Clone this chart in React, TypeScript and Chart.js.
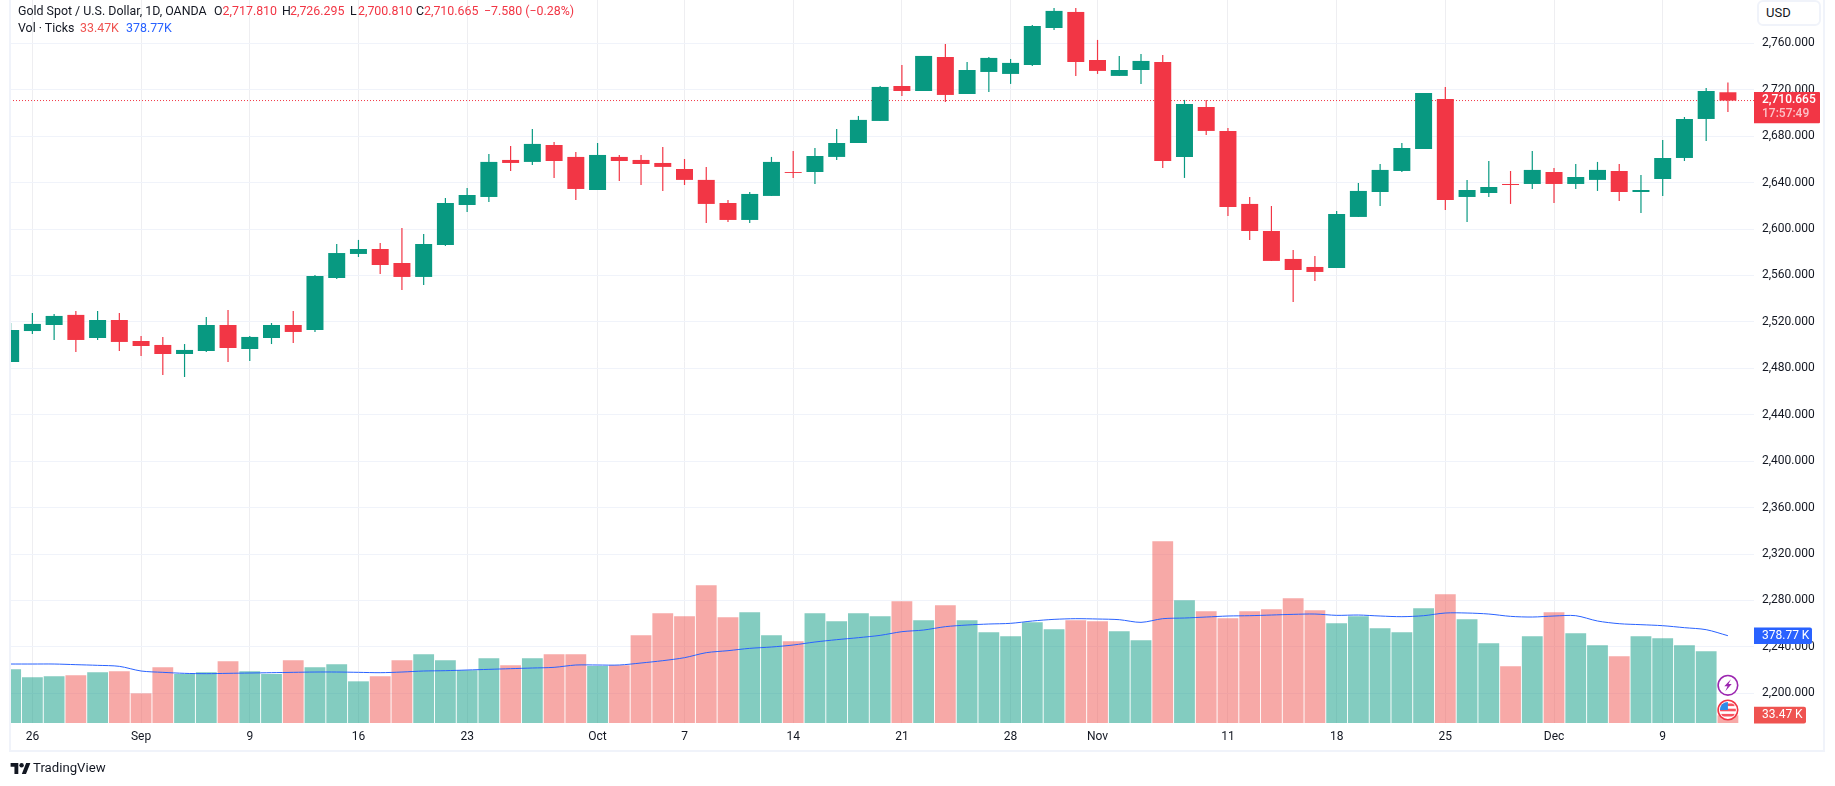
import React, { useEffect, useRef } from "react";
import { Chart, registerables } from "chart.js";

Chart.register(...registerables);

const W = 1835;
const H = 786;

const dates = [
  "Aug 23","Aug 26","Aug 27","Aug 28","Aug 29","Aug 30",
  "Sep 2","Sep 3","Sep 4","Sep 5","Sep 6","Sep 9","Sep 10","Sep 11","Sep 12","Sep 13",
  "Sep 16","Sep 17","Sep 18","Sep 19","Sep 20","Sep 23","Sep 24","Sep 25","Sep 26","Sep 27","Sep 30",
  "Oct 1","Oct 2","Oct 3","Oct 4","Oct 7","Oct 8","Oct 9","Oct 10","Oct 11","Oct 14","Oct 15","Oct 16","Oct 17","Oct 18",
  "Oct 21","Oct 22","Oct 23","Oct 24","Oct 25","Oct 28","Oct 29","Oct 30","Oct 31",
  "Nov 1","Nov 4","Nov 5","Nov 6","Nov 7","Nov 8","Nov 11","Nov 12","Nov 13","Nov 14","Nov 15",
  "Nov 18","Nov 19","Nov 20","Nov 21","Nov 22","Nov 25","Nov 26","Nov 27","Nov 28","Nov 29",
  "Dec 2","Dec 3","Dec 4","Dec 5","Dec 6","Dec 9","Dec 10","Dec 11","Dec 12",
];

const opens = [
  2485.4,2512.1,2517.3,2526.0,2506.1,2521.6,
  2503.5,2500.1,2492.3,2494.9,2517.3,2496.6,2506.1,2517.3,2513.0,2557.8,
  2578.5,2582.8,2570.7,2558.7,2586.2,2620.7,2627.6,2659.5,2657.8,2672.4,2662.1,
  2633.6,2662.1,2659.5,2656.9,2651.7,2642.3,2622.4,2607.8,2628.5,2649.1,2649.1,2662.1,2674.1,2693.1,
  2723.2,2718.9,2748.2,2716.3,2735.3,2733.6,2741.3,2773.2,2787.0,
  2745.6,2731.9,2737.0,2743.9,2662.1,2705.1,2684.5,2621.6,2598.3,2574.2,2567.3,
  2566.4,2610.4,2631.9,2650.0,2669.0,2712.0,2627.6,2631.0,2638.8,2638.8,
  2649.1,2638.8,2642.3,2650.0,2631.9,2643.1,2661.2,2694.8,2717.81,
];
const highs = [
  2519.0,2527.6,2526.8,2529.4,2529.4,2527.7,
  2507.8,2507.0,2500.9,2524.2,2530.2,2507.8,2519.0,2529.4,2560.4,2587.1,
  2590.6,2588.0,2600.9,2595.7,2626.7,2635.4,2664.7,2671.5,2686.2,2675.0,2666.4,
  2674.1,2663.8,2663.8,2670.7,2660.3,2653.5,2625.0,2631.9,2662.1,2667.2,2669.8,2686.2,2697.4,2723.2,
  2741.3,2749.1,2759.4,2743.9,2748.2,2746.5,2775.8,2790.5,2790.5,
  2762.9,2749.1,2750.8,2750.0,2711.2,2711.2,2687.1,2627.6,2619.8,2581.9,2576.8,
  2615.5,2639.7,2656.0,2674.1,2717.2,2722.4,2642.3,2658.6,2650.0,2667.2,
  2652.6,2656.0,2657.8,2656.0,2646.6,2676.7,2696.5,2721.5,2726.295,
];
const lows = [
  2485.4,2509.6,2504.4,2494.0,2504.4,2494.9,
  2490.6,2474.3,2472.5,2494.0,2485.4,2486.3,2500.9,2501.8,2511.3,2556.9,
  2575.9,2561.3,2547.5,2551.8,2585.4,2614.7,2623.3,2650.0,2655.2,2644.0,2625.0,
  2633.6,2641.4,2637.9,2632.8,2637.9,2605.2,2606.1,2605.2,2628.5,2644.0,2638.8,2659.5,2674.1,2693.1,
  2714.6,2718.9,2709.5,2716.3,2718.1,2725.0,2740.5,2771.5,2731.9,
  2733.6,2731.9,2725.0,2652.6,2644.0,2681.0,2611.2,2590.6,2572.5,2537.1,2555.2,
  2566.4,2610.4,2619.8,2649.1,2669.0,2616.4,2606.1,2627.6,2621.6,2634.5,
  2622.4,2634.5,2632.8,2624.2,2613.8,2628.5,2658.6,2675.8,2700.81,
];
const closes = [
  2513.0,2518.2,2525.1,2504.4,2521.6,2502.7,
  2499.2,2492.3,2495.8,2517.3,2497.5,2507.0,2517.3,2511.3,2559.5,2579.3,
  2582.8,2569.0,2558.7,2587.1,2622.4,2629.3,2657.8,2656.9,2673.3,2658.6,2634.5,
  2663.8,2658.6,2656.0,2653.5,2642.3,2621.6,2607.8,2630.2,2657.8,2648.3,2662.9,2674.1,2694.0,2722.4,
  2718.9,2749.1,2715.5,2737.0,2747.4,2743.1,2774.9,2787.9,2743.9,
  2736.2,2737.0,2744.8,2658.6,2707.7,2684.5,2619.0,2598.3,2572.5,2564.7,2563.0,
  2613.0,2632.8,2650.9,2669.8,2717.2,2625.0,2633.6,2636.2,2637.9,2650.9,
  2638.8,2644.8,2650.9,2631.9,2633.6,2661.2,2694.8,2718.9,2710.665,
];
const volumesK = [
  232.8,198.1,202.4,206.8,219.8,224.1,
  128.7,241.5,212.6,219.8,267.5,224.1,212.6,271.8,241.5,254.5,
  180.8,202.4,271.8,297.9,271.8,228.5,280.5,250.2,280.5,297.9,297.9,
  247.3,250.2,380.3,475.7,462.7,597.2,458.4,480.1,380.3,354.3,475.7,441.0,475.7,462.7,
  527.8,445.4,510.4,445.4,393.3,376.0,436.7,406.3,445.4,
  441.0,397.7,358.6,788.1,532.1,484.4,454.0,484.4,493.1,540.8,488.7,
  432.4,462.7,410.7,393.3,497.4,558.2,449.7,345.6,245.8,376.0,
  480.1,389.0,336.9,289.2,376.0,367.3,336.9,310.9,33.47,
];
const volumeMaK = [
  255.9,255.9,255.9,253.1,250.2,245.8,
  225.6,219.8,215.5,214.0,215.5,216.9,218.3,219.8,221.2,221.2,
  219.8,218.3,221.2,225.6,227.0,229.9,232.8,235.7,238.6,241.5,251.6,
  251.6,251.6,260.3,270.4,283.4,305.1,313.8,323.9,329.7,338.4,351.4,361.5,370.2,380.3,
  396.2,403.4,417.9,425.1,429.5,432.4,442.5,449.7,452.6,
  451.2,448.3,436.7,452.6,455.5,459.8,464.2,465.6,468.5,471.4,472.8,
  467.1,468.5,464.2,461.3,465.6,477.2,477.2,472.8,462.7,459.8,
  464.2,465.6,442.5,430.9,426.6,422.2,413.6,404.9,378.77,
];

const priceTicks = [2200,2240,2280,2320,2360,2400,2440,2480,2520,2560,2600,2640,2680,2720,2760];
const timeTickDates = ["Aug 26","Sep 2","Sep 9","Sep 16","Sep 23","Oct 1","Oct 7","Oct 14","Oct 21","Oct 28","Nov 1","Nov 11","Nov 18","Nov 25","Dec 2","Dec 9"];
const timeTickLabels = ["26","Sep","9","16","23","Oct","7","14","21","28","Nov","11","18","25","Dec","9"];

const lastPrice = 2710.665;
const lastVolumeText = "33.47K";
const lastMaText = "378.77K";
const countdown = "17:57:49";

const GREEN = "#089981";
const RED = "#F23645";
const GREEN_VOL = "rgba(8,153,129,0.5)";
const RED_VOL = "rgba(239,83,80,0.5)";
const BLUE = "#2962FF";
const TEXT = "#131722";
const FONT = "Roboto, 'Noto Sans', sans-serif";

const X_MIN = -1.03;
const X_MAX = 79.2;
const PRICE_MIN = 2174.4;
const PRICE_MAX = 2797.3;
const VOL_MAX = 3137;

const isUp = (i: number) => closes[i] >= opens[i];
const tickIndex = timeTickDates.map((d) => dates.indexOf(d));

function roundRightRect(ctx: CanvasRenderingContext2D, x: number, y: number, w: number, h: number, r: number) {
  ctx.beginPath();
  ctx.moveTo(x, y);
  ctx.lineTo(x + w - r, y);
  ctx.quadraticCurveTo(x + w, y, x + w, y + r);
  ctx.lineTo(x + w, y + h - r);
  ctx.quadraticCurveTo(x + w, y + h, x + w - r, y + h);
  ctx.lineTo(x, y + h);
  ctx.closePath();
}

const overlayPlugin = {
  id: "tvOverlay",
  afterDraw(chart: any) {
    const { ctx, scales } = chart;
    const price = scales.y;
    const vol = scales.vol;
    const xs = scales.x;
    const left = chart.chartArea.right;
    ctx.save();
    ctx.textBaseline = "middle";
    ctx.textAlign = "left";

    // last price tag
    const py = price.getPixelForValue(lastPrice);
    ctx.fillStyle = RED;
    roundRightRect(ctx, left, py - 8.5, 66, 31.3, 1);
    ctx.fill();
    ctx.font = `500 12px ${FONT}`;
    ctx.fillStyle = "#ffffff";
    ctx.fillText(lastPrice.toLocaleString("en-US", { minimumFractionDigits: 3 }), left + 8, py - 0.5);
    ctx.fillStyle = "#fcc2c7";
    ctx.fillText(countdown, left + 8, py + 13.5);

    // moving-average tag
    const my = vol.getPixelForValue(volumeMaK[volumeMaK.length - 1]);
    ctx.fillStyle = BLUE;
    roundRightRect(ctx, left, my - 8.2, 58, 16.4, 2);
    ctx.fill();
    ctx.fillStyle = "#ffffff";
    ctx.font = `12px ${FONT}`;
    ctx.fillText(lastMaText.replace("K", " K"), left + 8, my + 0.3);

    // volume tag
    const vy = vol.getPixelForValue(volumesK[volumesK.length - 1]);
    ctx.fillStyle = "#EF5350";
    roundRightRect(ctx, left, vy - 8.5, 52, 16.7, 2);
    ctx.fill();
    ctx.fillStyle = "#ffffff";
    ctx.fillText(lastVolumeText.replace("K", " K"), left + 8, vy + 0.2);

    // event icons on the last bar
    const cx = xs.getPixelForValue(dates.length - 2);
    const cy1 = 685.3;
    const cy2 = 710;
    ctx.beginPath();
    ctx.arc(cx, cy1, 9.8, 0, Math.PI * 2);
    ctx.fillStyle = "#fff";
    ctx.fill();
    ctx.lineWidth = 1.6;
    ctx.strokeStyle = "#9C27B0";
    ctx.stroke();
    ctx.beginPath();
    ctx.moveTo(cx + 3, cy1 - 6);
    ctx.lineTo(cx - 3.6, cy1 + 1);
    ctx.lineTo(cx - 0.4, cy1 + 1);
    ctx.lineTo(cx - 2.6, cy1 + 6);
    ctx.lineTo(cx + 3.8, cy1 - 1.2);
    ctx.lineTo(cx + 0.6, cy1 - 1.2);
    ctx.closePath();
    ctx.fillStyle = "#9C27B0";
    ctx.fill();

    ctx.beginPath();
    ctx.arc(cx, cy2, 9.8, 0, Math.PI * 2);
    ctx.fillStyle = "#fff";
    ctx.fill();
    ctx.save();
    ctx.beginPath();
    ctx.arc(cx, cy2, 8, 0, Math.PI * 2);
    ctx.clip();
    ctx.fillStyle = "#fff";
    ctx.fillRect(cx - 9, cy2 - 9, 18, 18);
    ctx.fillStyle = "#F7525F";
    ctx.fillRect(cx - 9, cy2 - 6.5, 18, 2.6);
    ctx.fillRect(cx - 9, cy2 - 1.3, 18, 2.6);
    ctx.fillRect(cx - 9, cy2 + 3.9, 18, 2.6);
    ctx.fillStyle = "#2E8BE8";
    ctx.fillRect(cx - 9, cy2 - 9, 9, 9);
    ctx.restore();
    ctx.beginPath();
    ctx.arc(cx, cy2, 9.8, 0, Math.PI * 2);
    ctx.strokeStyle = "#F23645";
    ctx.lineWidth = 1.6;
    ctx.stroke();
    ctx.restore();
  },
};

const span = (left: number, top: number, color: string, text: string, extra: React.CSSProperties = {}) => (
  <span
    style={{
      position: "absolute",
      left,
      top,
      color,
      font: `12.4px/14px ${FONT}`,
      whiteSpace: "pre",
      ...extra,
    }}
  >
    {text}
  </span>
);

export default function App() {
  const ref = useRef<HTMLCanvasElement | null>(null);

  useEffect(() => {
    document.body.style.margin = "0";
    document.body.style.background = "#fff";
    const idx = dates.map((_, i) => i - 1);
    const upColor = dates.map((_, i) => (isUp(i) ? GREEN : RED));
    const chart = new Chart(ref.current as HTMLCanvasElement, {
      type: "bar",
      data: {
        datasets: [
          {
            type: "bar",
            label: "Body",
            data: idx.map((x, i) => ({ x, y: [opens[i], closes[i]] })),
            backgroundColor: upColor,
            barThickness: 17,
            grouped: false,
            inflateAmount: 0,
            order: 1,
            yAxisID: "y",
          },
          {
            type: "bar",
            label: "Wick",
            data: idx.map((x, i) => ({ x, y: [lows[i], highs[i]] })),
            backgroundColor: upColor,
            barThickness: 1.2,
            grouped: false,
            inflateAmount: 0,
            order: 2,
            yAxisID: "y",
          },
          {
            type: "line",
            label: "Last",
            data: [
              { x: X_MIN, y: lastPrice },
              { x: X_MAX, y: lastPrice },
            ],
            borderColor: RED,
            borderWidth: 1,
            borderDash: [1, 2],
            pointRadius: 0,
            order: 3,
            yAxisID: "y",
          },
          {
            type: "line",
            label: "Volume MA",
            data: idx.map((x, i) => ({ x, y: volumeMaK[i] })),
            borderColor: BLUE,
            borderWidth: 1,
            pointRadius: 0,
            tension: 0.3,
            order: 4,
            yAxisID: "vol",
          },
          {
            type: "bar",
            label: "Volume",
            data: idx.map((x, i) => ({ x, y: volumesK[i] })),
            backgroundColor: dates.map((_, i) => (isUp(i) ? GREEN_VOL : RED_VOL)),
            barThickness: 20.8,
            grouped: false,
            inflateAmount: 0,
            order: 5,
            yAxisID: "vol",
          },
        ],
      } as any,
      options: {
        animation: false,
        responsive: false,
        devicePixelRatio: 1,
        layout: { padding: { left: 10, top: 0, right: 0, bottom: 0 } },
        plugins: { legend: { display: false }, tooltip: { enabled: false } },
        scales: {
          x: {
            type: "linear",
            min: X_MIN,
            max: X_MAX,
            offset: false,
            afterBuildTicks(scale: any) {
              scale.ticks = tickIndex.map((i) => ({ value: i - 1 }));
            },
            afterFit(scale: any) {
              scale.height = H - 723;
              scale.paddingLeft = 0;
              scale.paddingRight = 0;
            },
            grid: { color: "#EEEEF1", lineWidth: 1, drawTicks: false, offset: false },
            border: { display: false },
            ticks: {
              autoSkip: false,
              maxRotation: 0,
              padding: 7,
              color: TEXT,
              font: { family: FONT, size: 12 },
              callback: (_v: any, i: number) => timeTickLabels[i],
            },
          },
          y: {
            type: "linear",
            position: "right",
            min: PRICE_MIN,
            max: PRICE_MAX,
            afterBuildTicks(scale: any) {
              scale.ticks = priceTicks.map((value) => ({ value }));
            },
            afterFit(scale: any) {
              scale.width = W - 1754;
              scale.paddingTop = 0;
              scale.paddingBottom = 0;
            },
            grid: { color: "#F0F3FA", lineWidth: 1, drawTicks: false },
            border: { display: false },
            ticks: {
              autoSkip: false,
              padding: 8,
              color: TEXT,
              font: { family: FONT, size: 12 },
              callback: (v: any) => Number(v).toLocaleString("en-US", { minimumFractionDigits: 3 }),
            },
          },
          vol: {
            type: "linear",
            display: false,
            min: 0,
            max: VOL_MAX,
          },
        },
      } as any,
      plugins: [overlayPlugin],
    });
    return () => chart.destroy();
  }, []);

  return (
    <div style={{ position: "absolute", left: 0, top: 0, width: W, height: H, background: "#fff", overflow: "hidden" }}>
      <canvas ref={ref} width={W} height={H} style={{ display: "block", width: W, height: H }} />
      <div style={{ position: "absolute", left: 9, top: 0, width: 2, height: 752, background: "#F0F3FA" }} />
      <div style={{ position: "absolute", left: 9, top: 750, width: 1816, height: 2, background: "#F0F3FA" }} />
      <div style={{ position: "absolute", left: 1823, top: 0, width: 2, height: 752, background: "#F0F3FA" }} />
      {span(18, 3.5, TEXT, "Gold Spot / U.S. Dollar, 1D, OANDA")}
      {span(214, 3.5, TEXT, "O")}
      {span(222.6, 3.5, RED, "2,717.810")}
      {span(282, 3.5, TEXT, "H")}
      {span(290, 3.5, RED, "2,726.295")}
      {span(350, 3.5, TEXT, "L")}
      {span(358, 3.5, RED, "2,700.810")}
      {span(416, 3.5, TEXT, "C")}
      {span(424, 3.5, RED, "2,710.665")}
      {span(484, 3.5, RED, "\u22127.580 (\u22120.28%)")}
      {span(18, 20.5, TEXT, "Vol \u00B7 Ticks")}
      {span(80, 20.5, "#EF5350", "33.47K")}
      {span(126, 20.5, BLUE, "378.77K")}
      <div
        style={{
          position: "absolute",
          left: 1757,
          top: 0,
          width: 64,
          height: 26,
          boxSizing: "border-box",
          border: "2px solid #F0F3FA",
          borderRadius: 6,
          background: "#fff",
          color: TEXT,
          font: `13px/21px ${FONT}`,
          paddingLeft: 7,
        }}
      >
        USD
      </div>
      <svg style={{ position: "absolute", left: 10, top: 763 }} width={21} height={11} viewBox="0 0 36 20">
        <path d="M14 20H7V7H0V0h14v20zM28 20h-7.6L28.2 0H36l-8 20z" fill={TEXT} />
        <circle cx="20" cy="4" r="4" fill={TEXT} />
      </svg>
      {span(33, 760, TEXT, "TradingView", { font: `400 13.2px/16px ${FONT}` })}
    </div>
  );
}
